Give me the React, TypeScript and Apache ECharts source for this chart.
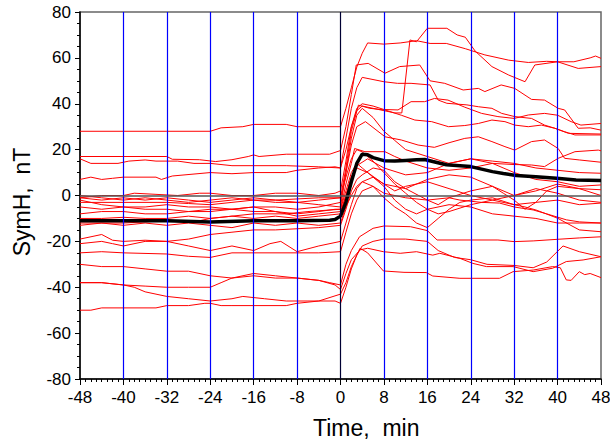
import React, { useEffect, useRef } from "react";
import * as echarts from "echarts";

// Superposed epoch curves of SymH (nT) versus time (min)
const curve01 = [[-48,28],[-40,28],[-32,28],[-24,28],[-22,29.5],[-18,30],[-16,31],[-10,31],[-8,30],[0,30],[1,38],[2,47],[3,56],[4,62],[5,66.5],[8,66],[11,66.5],[14,67.5],[16.5,66.3],[19.5,66.3],[23,64],[26.6,61.3],[31,59],[34.6,58],[38,58.5],[40,58.3],[43,58.3],[46,60],[47,60.8],[48,59.8]];
const curve02 = [[-48,7],[-46,8],[-44,7],[-42,7.5],[-40,8],[-34,8],[-33,7],[-31,8.5],[-24,10],[-20,9.5],[-16,10],[-10,10],[-8,11],[-4,12],[-1,12.5],[0,12],[1,20],[2,30],[3,37],[4,39],[6,38],[8,37],[10,36],[11.3,36],[12.8,67.8],[14,67],[16,72.9],[19.6,72.9],[21.5,70],[23,69],[24.8,63],[27.9,56.2],[31,52.5],[34,49.6],[35.8,56.9],[40,58.3],[43.8,55.4],[48,56.2]];
const curve03 = [[-48,17],[-32,17],[-31,15.8],[-26,15.6],[-23,14.8],[-20,15.6],[-17,17],[-16,17.7],[-15,17],[-10,18],[-2,18],[0,19.6],[1,30],[2,44],[2.9,56.9],[5.1,57.6],[8.2,53.3],[10.9,56.2],[14.6,56.9],[16.5,50],[19.2,48.9],[22.6,46],[25.4,46.7],[26.6,45.3],[29.6,48.2],[32.1,46.7],[35.2,41.9],[37.6,41.6],[40.1,38],[41.3,37.3],[43.8,29.3],[46,29.5],[48,28.5]];
const curve04 = [[-48,16],[-46,14],[-41,14],[-39,15],[-36,15.5],[-34,15],[-30,15],[-27,14],[-24,14],[-20,13],[-10,13],[-4,12.5],[0,12],[1,25],[2,38],[3,47],[4,51.5],[8,49.6],[10.5,48.9],[13,48.9],[16.5,48.2],[18,41.6],[19.6,40.2],[23.3,39.5],[25.4,38.7],[27.9,38],[29.7,35.8],[32.1,34.4],[35.2,33.6],[37.6,30.7],[39.5,29.3],[41.3,27.8],[43.2,26.4],[48,26.4]];
const curve05 = [[-48,-1],[-44,0],[-40,0],[-38,1],[-34,0.5],[-30,0],[-26,1],[-24,1],[-20,0],[-16,0],[-12,1],[-8,1],[-4,0],[-1,1],[0,2],[1,15],[2,30],[3,38],[4,40],[6,39],[8,37.5],[10.6,37.3],[13,40.9],[15.5,40.9],[17.3,42.3],[19.8,41.6],[22.9,38.5],[26,35.8],[29,34.4],[32,33.6],[34.6,35.1],[37.6,35.8],[40,35],[42.5,32.2],[44.3,30.7],[48,31.4]];
const curve06 = [[-48,-1],[-44,-2],[-40,-1],[-36,-2],[-32,-1],[-28,-2],[-24,-3],[-20,-2],[-16,-1],[-12,-2],[-8,-1.5],[-4,-1],[0,-1],[1,12],[2,28],[3.3,39.4],[5.4,38],[8.2,37.3],[11.2,35],[13.7,32.9],[16.8,32.2],[19.9,30],[22.9,30.5],[25.4,31.4],[27.9,32.9],[30.3,32.2],[32.1,30.7],[34.6,30],[37,30.7],[39.5,29.3],[42,27.1],[48,26.8]];
const curve07 = [[-48,-3],[-40,-3],[-32,-3],[-28,-3.5],[-24,-4],[-20,-3],[-16,-2],[-12,-3],[-8,-3],[-4,-4],[0,-5],[1,10],[2,22],[3,30],[4.6,32.2],[8.2,25.6],[11.2,24.2],[14.3,22],[17.3,21],[20,23],[22.9,24.9],[25.4,25.6],[27.9,23.5],[30.3,21.3],[32.1,19.8],[35.2,23.5],[37.6,24.2],[40.1,20.5],[41.3,16.2],[44,15.5],[48,14.5]];
const curve08 = [[-48,-2],[-44,-4],[-40,-5],[-36,-5],[-32,-4],[-28,-5],[-24,-5],[-20,-6],[-16,-7],[-12,-7],[-8,-8],[-4,-7],[-1,-6],[0,-6],[1,5],[2,14],[2.6,20.5],[4.5,19.1],[8.2,19.1],[10,17],[12,15],[16,12],[20,11],[24,12],[28,14],[32,13.5],[35.2,13.3],[37.6,12.6],[40.1,16.2],[43.2,19.1],[47.5,19.8],[48,19.5]];
const curve09 = [[-48,-10],[-44,-10],[-40,-9.5],[-36,-10],[-32,-10],[-28,-9],[-24,-10],[-20,-9],[-16,-10],[-12,-9],[-8,-10],[-4,-9],[0,-8],[1,0],[2,8],[3,13],[5,16],[8,12],[12,9],[16,10],[20,14],[24,16],[28,14],[32,10],[36,7],[40,6],[44,4],[48,4.6]];
const curve10 = [[-48,-12],[-40,-12],[-32,-11],[-26,-11],[-24,-10],[-20,-9],[-16,-8],[-10,-8],[-6,-7],[0,-6],[1,2],[2,10],[3,14],[4,12],[6,8],[8,5],[12,3],[16,7],[20,9],[24,8],[28,4],[32,0],[36,2],[40,5],[44,3],[48,2.5]];
const curve11 = [[-48,-19],[-44,-17],[-42,-19.5],[-40,-20],[-36,-19.5],[-32,-20],[-28,-19],[-24,-17],[-20,-16],[-16,-15],[-12,-15],[-8,-14.5],[-4,-14],[0,-13],[1,-6],[2,2],[3,7],[4,9],[6,12],[8,11],[10,6],[12,3],[16,-2],[18,-4],[20,-1],[24,2],[28,4],[30,1],[32,-2],[34,-6],[36,-3],[38,2],[40,4],[44,3],[48,0]];
const curve12 = [[-48,-21],[-44,-20],[-42,-21],[-40,-22],[-36,-20],[-32,-20],[-28,-22],[-24,-24],[-20,-22],[-16,-24],[-13,-21],[-11,-20],[-8,-24.5],[-4,-22],[0,-20],[1,-12],[2,-4],[3,3],[4,6],[6,4],[8,-1],[10,-5],[12,-8],[14,-12],[16,-14],[18,-10],[20,-6],[22,-3],[24,-2],[28,-1],[32,-4],[36,-3],[40,-2],[44,-4],[48,-3.3]];
const curve13 = [[-48,-25],[-44,-24.5],[-40,-25],[-32,-25.5],[-28,-26.5],[-24,-27],[-20,-25],[-16,-25],[-8,-25],[-4,-25],[0,-24.5],[1,-16],[2,-8],[3,-2],[4,2],[6,4],[8,1],[12,-1],[16,-2],[20,-1],[22,-2],[26,-3],[29.3,-3.3],[32,-5],[35.5,-6.3],[38,-8],[41.6,-10.6],[44,-11.5],[48,-12]];
const curve14 = [[-48,-30],[-44,-31],[-40,-31],[-36,-32],[-32,-33],[-28,-33],[-24,-35],[-20,-36],[-16,-34],[-12,-35],[-8,-36],[-4,-37],[-1,-39],[0,-41],[1,-34],[2,-28],[3.6,-23.7],[5,-23],[7.9,-24.5],[11,-25.2],[14,-24.5],[17,-26],[18.3,-25.2],[22,-27.4],[24.4,-29.6],[26.9,-31],[31.8,-31],[35.5,-33.2],[39.1,-31.7],[41.6,-28.8],[44.7,-28.1],[48,-26.7]];
const curve15 = [[-48,-38],[-44,-38],[-40,-39],[-38,-40],[-36,-42],[-32,-44],[-28,-45],[-24,-46],[-20,-45],[-18,-44],[-14,-45],[-10,-46],[-6,-46],[-4,-46],[0,-43],[1,-38],[2,-31],[3.6,-23],[5,-25],[7.9,-32.9],[11.7,-33.5],[15.8,-33.6],[17,-35.1],[22,-36.1],[29.3,-36.1],[31.8,-33.2],[35.5,-32.5],[39.1,-31],[40.5,-31.5],[41.6,-36.8],[42.5,-37],[44,-33.2],[45,-34.5],[46,-34],[48,-35.8]];
const curve16 = [[-48,-38],[-44,-38],[-40,-39],[-36,-39.5],[-32,-40],[-28,-40],[-24,-40],[-22,-38],[-20,-36],[-16,-35],[-12,-36],[-8,-36],[-4,-37],[-2,-38],[0,-39],[1,-30],[2,-24],[3.5,-18],[6,-14.3],[8,-13.3],[12.9,-13.6],[16,-15.3],[17.8,-19.4],[24,-19.4],[29,-19.4],[32,-20.1],[35.5,-19.8],[40,-19.1],[44,-18.5],[48,-18]];
const curve17 = [[-48,-50],[-46,-50],[-44,-49],[-40,-49],[-34,-49],[-32,-48],[-28,-48],[-25,-47],[-24,-47],[-22,-48],[-20,-48],[-16,-48],[-10,-48],[-8,-47],[-4,-46],[-1,-46],[0,-47],[1,-40],[2,-32],[3,-26],[4,-22],[6,-20],[8,-19],[12,-19],[16,-20],[18,-24],[21,-27],[24,-28],[27,-30],[32,-30.5],[35.5,-31.5],[38,-29],[41,-22],[44,-24.5],[48,-26.7]];
const curve18 = [[-48,0],[-44,-1],[-40,-2],[-36,-1],[-32,-2],[-28,-3],[-24,-2],[-20,-1],[-16,-2],[-12,-2],[-8,-3],[-4,-2],[0,-1],[1,8],[2,16],[3,20],[4,19],[6,15],[8,10],[10,5],[12,1],[14,-3],[16,-6],[18,-8],[20,-7],[24,-4],[28,-2],[32,0],[36,3],[40,1],[44,-2],[48,-3]];
const curve19 = [[-48,-8],[-44,-7],[-40,-7],[-36,-8],[-32,-8],[-28,-7],[-24,-6],[-20,-6],[-16,-5],[-12,-7],[-8,-9],[-4,-8],[0,-7],[1,0],[2,8],[3,12],[5,10],[8,5],[10,2],[12,4],[16,6],[20,3],[24,0],[28,-2],[32,-4],[34,-5],[36,-6.3],[40,-9.9],[44,-15],[48,-15.8]];
const curve20 = [[-48,-13],[-44,-12],[-40,-13],[-36,-12],[-32,-13],[-28,-12],[-24,-13],[-20,-14],[-16,-12],[-12,-13],[-8,-12],[-4,-13],[0,-12],[1,-5],[2,0],[3,4],[4,6],[6,8],[8,4],[10,-2],[12,-6],[14,-8],[16,-6],[20,-4],[24,-5],[28,-8],[32,-9],[36,-10],[40,-12],[44,-12],[48,-12]];
const curve21 = [[-48,-5],[-44,-6],[-40,-5],[-36,-6],[-32,-6],[-28,-7],[-24,-7],[-20,-6],[-16,-5],[-12,-5],[-8,-6],[-4,-5],[0,-3],[1,10],[2,25],[3,35],[4,38],[6,34],[8,28],[10,24],[12,20],[16,17],[20,14],[24,16],[28,15],[32,14],[36,12],[40,11],[44,10],[48,9.7]];

// Mean curve (thick black)
const meanCurve = [[-48,-11],[-40,-11],[-32,-11],[-24,-11.5],[-16,-11],[-8,-11],[-2,-10.8],[-1,-10.5],[0,-9],[1,-3],[2,6],[3,14],[4,18],[5,17.8],[6,16.5],[8,15.2],[10,15],[12,15.3],[14,15.6],[15.5,15.7],[17,14.8],[19.5,13.4],[22,13],[24,12.6],[26,11.5],[28,10.4],[30,9.6],[32.4,8.7],[36,8.2],[39.8,7.5],[43.4,6.8],[48,6.5]];

const redCurves = [curve01, curve02, curve03, curve04, curve05, curve06, curve07, curve08, curve09, curve10, curve11, curve12, curve13, curve14, curve15, curve16, curve17, curve18, curve19, curve20, curve21];

// Vertical reference lines (blue) at these times; the onset line (black) at 0
const blueLineTimes = [-40, -32, -24, -16, -8, 8, 16, 24, 32, 40];
const onsetTime = 0;
const zeroLevel = 0;

const xMin = -48, xMax = 48, xStep = 8;
const yMin = -80, yMax = 80, yStep = 20;
const xTitle = "Time,  min";
const yTitle = "SymH,  nT";

const FONT = "'Liberation Sans', Arial, sans-serif";

export default function App() {
  const ref = useRef<HTMLDivElement>(null);
  useEffect(() => {
    if (!ref.current) return;
    const chart = echarts.init(ref.current, undefined, { renderer: "svg" });
    const series: any[] = [];
    series.push({
      type: "line",
      data: [],
      silent: true,
      z: 1,
      markLine: {
        silent: true,
        symbol: "none",
        label: { show: false },
        animation: false,
        data: [
          ...blueLineTimes.map((t) => ({ xAxis: t, lineStyle: { color: "#0000ff", width: 1.2, type: "solid" } })),
          { xAxis: onsetTime, lineStyle: { color: "#000033", width: 1.2, type: "solid" } },
          { yAxis: zeroLevel, lineStyle: { color: "#555555", width: 1.5, type: "solid" } },
        ],
      },
    });
    redCurves.forEach((c, i) => {
      series.push({
        type: "line",
        name: "event" + (i + 1),
        data: c,
        showSymbol: false,
        symbol: "none",
        silent: true,
        z: 2,
        lineStyle: { color: "#ff0000", width: 1 },
      });
    });
    series.push({
      type: "line",
      name: "mean",
      data: meanCurve,
      showSymbol: false,
      symbol: "none",
      silent: true,
      z: 3,
      lineStyle: { color: "#000000", width: 3.5 },
    });
    chart.setOption({
      animation: false,
      backgroundColor: "#ffffff",
      grid: {
        left: 80,
        right: 9,
        top: 12,
        bottom: 65,
        containLabel: false,
        outerBoundsMode: "none",
        show: true,
        borderColor: "#666666",
        borderWidth: 1.5,
        backgroundColor: "transparent",
      },
      xAxis: {
        type: "value",
        min: xMin,
        max: xMax,
        interval: xStep,
        axisLine: { show: true, onZero: false, lineStyle: { color: "#000", width: 1.5 } },
        axisTick: { show: true, length: 6, lineStyle: { color: "#000", width: 1 } },
        minorTick: { show: true, splitNumber: 8, length: 3, lineStyle: { color: "#000", width: 1 } },
        axisLabel: { color: "#000", fontSize: 17, fontFamily: FONT, margin: 10 },
        splitLine: { show: false },
        minorSplitLine: { show: false },
      },
      yAxis: {
        type: "value",
        min: yMin,
        max: yMax,
        interval: yStep,
        axisLine: { show: true, onZero: false, lineStyle: { color: "#000", width: 1.5 } },
        axisTick: { show: true, length: 5, lineStyle: { color: "#000", width: 1 } },
        minorTick: { show: true, splitNumber: 4, length: 3, lineStyle: { color: "#000", width: 1 } },
        axisLabel: { color: "#000", fontSize: 17, fontFamily: FONT, margin: 9 },
        splitLine: { show: false },
      },
      graphic: [
        {
          type: "text",
          left: 313,
          top: 416,
          silent: true,
          style: { text: xTitle, fill: "#000", font: `23px ${FONT}` },
        },
        {
          type: "text",
          x: 22,
          y: 202,
          rotation: Math.PI / 2,
          silent: true,
          style: { text: yTitle, fill: "#000", font: `23px ${FONT}`, textAlign: "center", textVerticalAlign: "middle" },
        },
      ],
      series,
    });
    return () => chart.dispose();
  }, []);
  return <div ref={ref} style={{ position: "fixed", left: 0, top: 0, width: 610, height: 444 }} />;
}
